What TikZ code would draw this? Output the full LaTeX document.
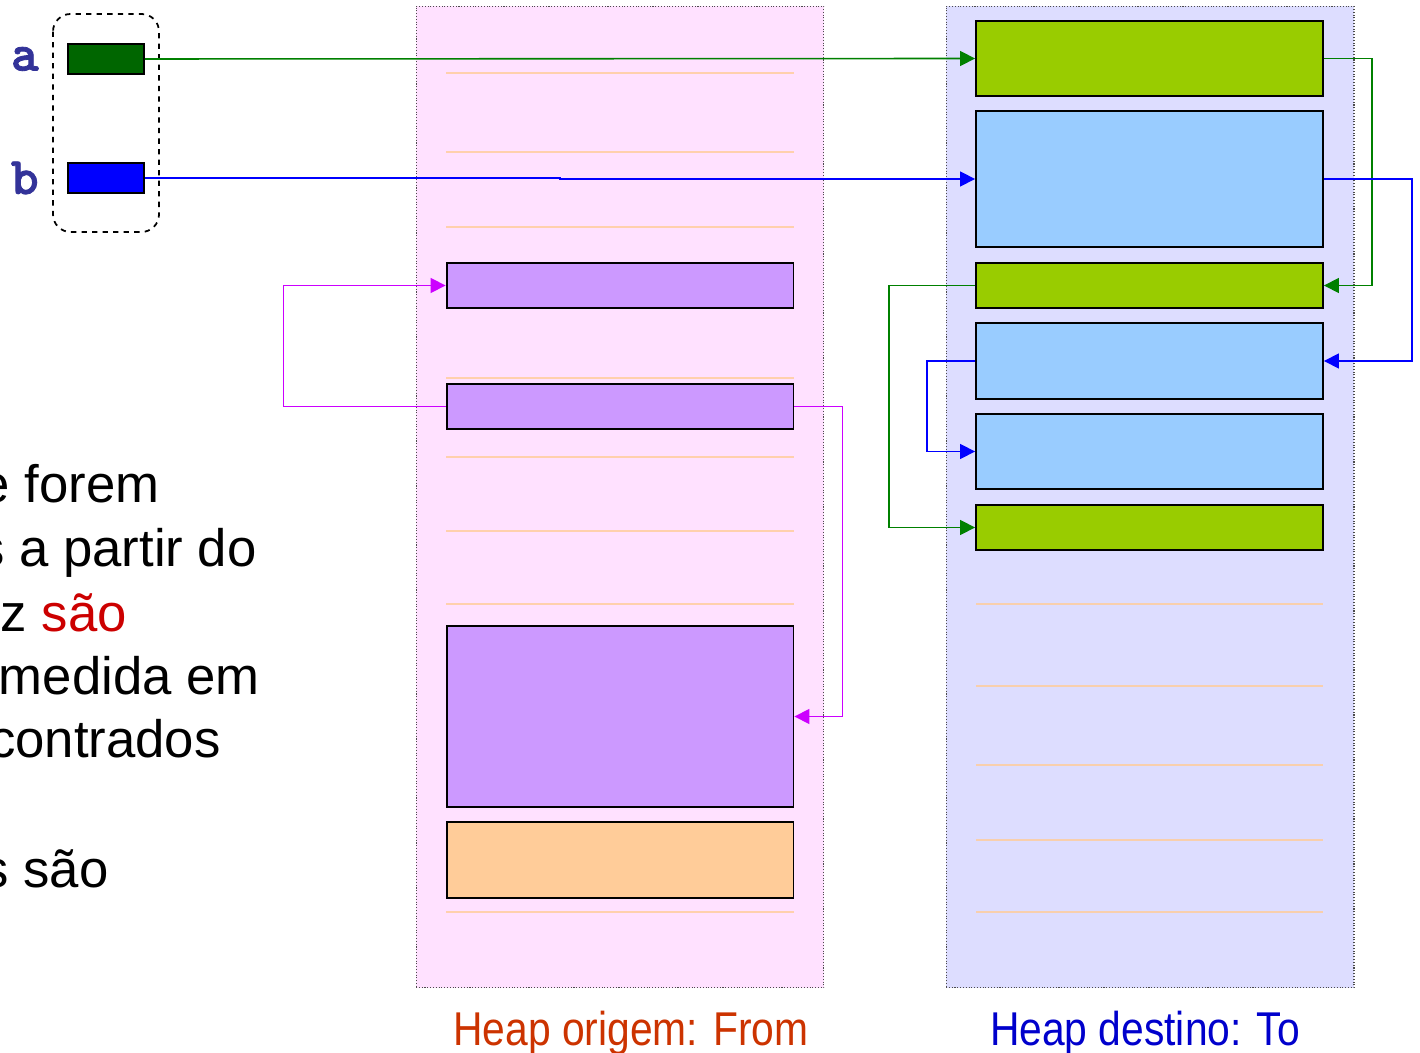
\documentclass[tikz,border=0pt]{standalone}
\usepackage{fontspec}
\setmainfont{Liberation Sans}
\newfontfamily\narrowfont[FakeStretch=0.86]{Liberation Sans}
\newfontfamily\codefont[FakeBold=1.6]{lmmonolt10-bold.otf}
\usetikzlibrary{shapes,arrows.meta,positioning,calc}

\definecolor{fromfill}{HTML}{FFE1FF}
\definecolor{tofill}{HTML}{DDDDFF}
\definecolor{objpurple}{HTML}{CC99FF}
\definecolor{objpeach}{HTML}{FFCC99}
\definecolor{objlime}{HTML}{99CC00}
\definecolor{objsky}{HTML}{99CCFF}
\definecolor{vargreen}{HTML}{006600}
\definecolor{ptrgreen}{HTML}{008000}
\definecolor{ptrmagenta}{HTML}{CC00FF}
\definecolor{slotline}{HTML}{FFCC99}
\definecolor{namecol}{HTML}{333399}
\definecolor{fromcol}{HTML}{CC3300}
\definecolor{tocol}{HTML}{0000CC}
\definecolor{hilite}{HTML}{CC0000}

\begin{document}
\begin{tikzpicture}[x=0.02cm, y=-0.02cm]

% Define styles
\tikzstyle{heap} = [rectangle, draw=black!70, densely dotted, line width=0.6pt, minimum width=8.16cm, minimum height=19.64cm, inner sep=0pt]
\tikzstyle{obj} = [rectangle, draw=black, line width=1.1pt, minimum width=6.94cm, inner sep=0pt]
\tikzstyle{var} = [rectangle, draw=black, line width=1.1pt, minimum width=1.52cm, minimum height=0.6cm, inner sep=0pt]
\tikzstyle{varname} = [inner sep=0pt, text=namecol, font=\codefont\fontsize{30}{32}\selectfont]
\tikzstyle{heaplabel} = [inner sep=0pt, font=\narrowfont\fontsize{27}{32}\selectfont]
\tikzstyle{body} = [inner sep=0pt, anchor=base east, font=\fontsize{30}{36}\selectfont]
\tikzstyle{slot} = [draw=slotline, line width=0.7pt, opacity=0.8]
\tikzstyle{ptr} = [line width=0.9pt, -{Triangle[length=8.5pt,width=8.5pt]}]

\useasboundingbox (0,0) rectangle (1420,1053);

% Text on the left (runs off the page)
\node (line1) [body] at (160,503) {e forem};
\node (line2) [body] at (257,567) {s a partir do};
\node (line3) [body] at (127,632) {z \textcolor{hilite}{são}};
\node (line4) [body] at (260,695) {medida em};
\node (line5) [body] at (221,758) {contrados};
\node (line6) [body] at (109,887) {s são};

% The two heaps
\node (fromheap) [heap, fill=fromfill] at (620,497) {};
\node (toheap) [heap, fill=tofill] at (1150,497) {};
\node (fromlbl) [heaplabel, text=fromcol, below=0.44cm of fromheap, xshift=0.22cm] {Heap origem: From};
\node (tolbl) [heaplabel, text=tocol, below=0.44cm of toheap, xshift=-0.1cm] {Heap destino: To};

% Empty slots
\foreach \y in {73,152,227,378,457,531,604,912}
  \draw [slot] (446,\y) -- (794,\y);
\foreach \y in {604,686,765,840,912}
  \draw [slot] (976,\y) -- (1323,\y);

% Objects in the from-space
\node (f1) [obj, fill=objpurple, minimum height=0.9cm] at (620,285.5) {};
\node (f2) [obj, fill=objpurple, minimum height=0.9cm] at (620,406.5) {};
\node (f3) [obj, fill=objpurple, minimum height=3.62cm] at (620,716.5) {};
\node (f4) [obj, fill=objpeach, minimum height=1.52cm] at (620,860) {};

% Copies in the to-space
\node (t1) [obj, fill=objlime, minimum height=1.5cm] at (1149.5,58.5) {};
\node (t2) [obj, fill=objsky, minimum height=2.72cm] at (1149.5,179) {};
\node (t3) [obj, fill=objlime, minimum height=0.9cm] at (1149.5,285.5) {};
\node (t4) [obj, fill=objsky, minimum height=1.52cm] at (1149.5,361) {};
\node (t5) [obj, fill=objsky, minimum height=1.5cm] at (1149.5,451.5) {};
\node (t6) [obj, fill=objlime, minimum height=0.9cm] at (1149.5,527.5) {};

% Roots
\draw [dashed, line width=1pt, rounded corners=10pt] (53,14) rectangle (159,232);
\node (va) [var, fill=vargreen] at (106,59) {};
\node (vb) [var, fill=blue] at (106,178) {};
\node (na) [varname, left=0.56cm of va] {a};
\node (nb) [varname, left=0.56cm of vb] {b};

% Pointers from the roots
\draw [ptr, ptrgreen] (va.east) -- (t1.west);
\draw [ptr, blue] (vb.east) -- ++(415,0) |- (t2.west);

% Pointers inside the to-space
\draw [ptr, ptrgreen] (t1.east) -- ++(48,0) |- (t3.east);
\draw [ptr, blue] (t2.east) -- ++(88,0) |- (t4.east);
\draw [ptr, ptrgreen] (t3.west) -- ++(-86,0) |- (t6.west);
\draw [ptr, blue] (t4.west) -- ++(-48,0) |- (t5.west);

% Pointers still in the from-space
\draw [ptr, ptrmagenta] (f2.west) -- ++(-162,0) |- (f1.west);
\draw [ptr, ptrmagenta] (f2.east) -- ++(48,0) |- (f3.east);

\end{tikzpicture}
\end{document}
